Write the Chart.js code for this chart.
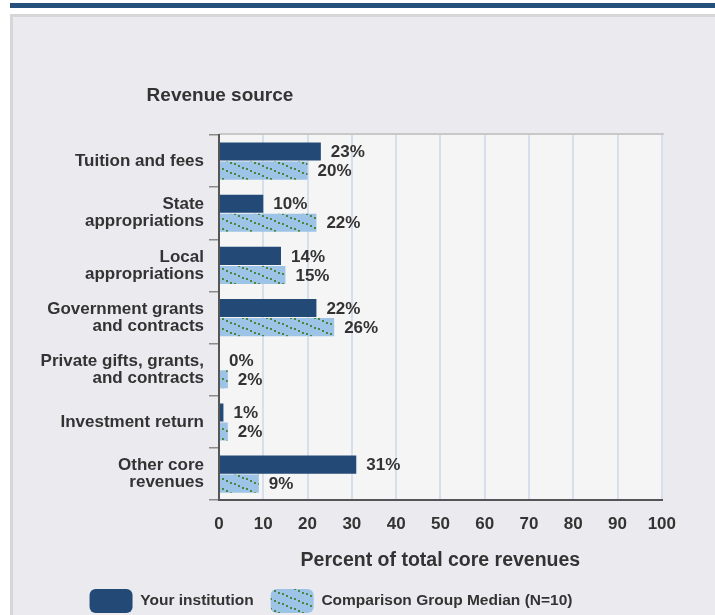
<!DOCTYPE html>
<html lang="en">
<head>
    <meta charset="UTF-8">
    <title>Revenue source</title>
    <script src="https://cdn.jsdelivr.net/npm/chart.js@4.4.0/dist/chart.umd.min.js"></script>
    <style>
        html, body { margin: 0; padding: 0; background: #fff; overflow: hidden; width: 715px; height: 615px; }
        .band { position: absolute; left: 10px; top: 3px; width: 710px; height: 5px; background: #24507b; }
        .panel { position: absolute; left: 10px; top: 14px; width: 720px; height: 620px; background: #ebebef; border-top: 3px solid #d6d6d6; border-left: 3px solid #d6d6d6; }
        #wrap { position: absolute; left: -14px; top: 0; width: 704px; height: 623px; }
    </style>
</head>
<body>
    <div class="band"></div>
    <div class="panel"></div>
    <div id="wrap"><canvas id="revChart" width="704" height="623"></canvas></div>
    <script>
        // données
        const categories = [
            'Tuition and fees',
            ['State', 'appropriations'],
            ['Local', 'appropriations'],
            ['Government grants', 'and contracts'],
            ['Private gifts, grants,', 'and contracts'],
            'Investment return',
            ['Other core', 'revenues']
        ];
        const yourInstitution = [23, 10, 14, 22, 0, 1, 31];
        const comparisonMedian = [20, 22, 15, 26, 2, 2, 9];
        const xTicks = [0, 10, 20, 30, 40, 50, 60, 70, 80, 90, 100];

        const textColor = '#333333';

        // motif hachuré (bleu clair + pointillés verts)
        function makeHatch() {
            const c = document.createElement('canvas');
            c.width = 24; c.height = 10;
            const g = c.getContext('2d');
            g.fillStyle = '#9dc3e6';
            g.fillRect(0, 0, 24, 10);
            g.fillStyle = '#478744';
            for (let x = 0; x < 24; x += 4) {
                const y = Math.round(x * 10 / 24);
                g.fillRect(x, y, 2, 2);
                if (y > 8) g.fillRect(x, y - 10, 2, 2);
            }
            return g.createPattern(c, 'repeat');
        }
        const hatch = makeHatch();

        const areaBg = {
            id: 'areaBg',
            beforeDraw(chart) {
                const { ctx, chartArea: a } = chart;
                ctx.save();
                ctx.fillStyle = '#f5f5f5';
                ctx.fillRect(a.left, a.top, a.right - a.left, a.bottom - a.top);
                ctx.fillStyle = '#c8c8c8';
                ctx.fillRect(a.left, a.top - 2, a.right - a.left + 2, 2);
                ctx.restore();
            }
        };

        const valueLabels = {
            id: 'valueLabels',
            afterDatasetsDraw(chart) {
                const ctx = chart.ctx;
                ctx.save();
                ctx.font = 'bold 17px "Liberation Sans", Arial, sans-serif';
                ctx.fillStyle = textColor;
                ctx.textAlign = 'left';
                ctx.textBaseline = 'middle';
                chart.data.datasets.forEach((ds, i) => {
                    chart.getDatasetMeta(i).data.forEach((bar, j) => {
                        ctx.fillText(ds.data[j] + '%', bar.x + 10, bar.y + 1);
                    });
                });
                ctx.restore();
            }
        };

        const sideTitle = {
            id: 'sideTitle',
            afterDraw(chart) {
                const ctx = chart.ctx;
                ctx.save();
                ctx.font = 'bold 19px "Liberation Sans", Arial, sans-serif';
                ctx.fillStyle = textColor;
                ctx.textAlign = 'center';
                ctx.textBaseline = 'middle';
                ctx.fillText('Revenue source', chart.chartArea.left + 1, 96);
                ctx.restore();
            }
        };

        const ctx = document.getElementById('revChart').getContext('2d');
        new Chart(ctx, {
            type: 'bar',
            data: {
                labels: categories,
                datasets: [{
                    label: 'Your institution',
                    data: yourInstitution,
                    backgroundColor: '#234a77',
                    borderWidth: 0,
                    categoryPercentage: 0.73,
                    barPercentage: 0.95
                }, {
                    label: 'Comparison Group Median (N=10)',
                    data: comparisonMedian,
                    backgroundColor: hatch,
                    borderWidth: 0,
                    categoryPercentage: 0.73,
                    barPercentage: 0.95
                }]
            },
            options: {
                indexAxis: 'y',
                responsive: false,
                animation: false,
                layout: { padding: { top: 135, left: 10, right: 24, bottom: 0 } },
                plugins: {
                    legend: {
                        position: 'bottom',
                        labels: {
                            color: textColor,
                            font: { family: '"Liberation Sans", Arial, sans-serif', size: 15.5, weight: 'bold' },
                            boxWidth: 43,
                            boxHeight: 24,
                            padding: 17,
                            useBorderRadius: true,
                            borderRadius: 6
                        }
                    },
                    tooltip: { enabled: false }
                },
                scales: {
                    x: {
                        min: 0,
                        max: 100,
                        afterBuildTicks(scale) { scale.ticks = xTicks.map(v => ({ value: v })); },
                        grid: { color: '#d6dfec', lineWidth: 2, drawTicks: false },
                        border: { display: true, color: '#555555', width: 2 },
                        ticks: {
                            padding: 14,
                            color: textColor,
                            font: { family: '"Liberation Sans", Arial, sans-serif', size: 17, weight: 'bold' }
                        },
                        title: {
                            display: true,
                            text: 'Percent of total core revenues',
                            color: textColor,
                            padding: { top: 0, bottom: 0 },
                            font: { family: '"Liberation Sans", Arial, sans-serif', size: 19.5, weight: 'bold' }
                        }
                    },
                    y: {
                        afterFit(scale) { scale.width = 223; },
                        grid: { drawOnChartArea: false, offset: true, tickLength: 10, color: '#8a8a8a', lineWidth: 1.5 },
                        border: { display: true, color: '#555555', width: 2 },
                        ticks: {
                            padding: 5,
                            color: textColor,
                            font: { family: '"Liberation Sans", Arial, sans-serif', size: 17, weight: 'bold', lineHeight: 1.0 }
                        }
                    }
                }
            },
            plugins: [areaBg, valueLabels, sideTitle]
        });
    </script>
</body>
</html>
